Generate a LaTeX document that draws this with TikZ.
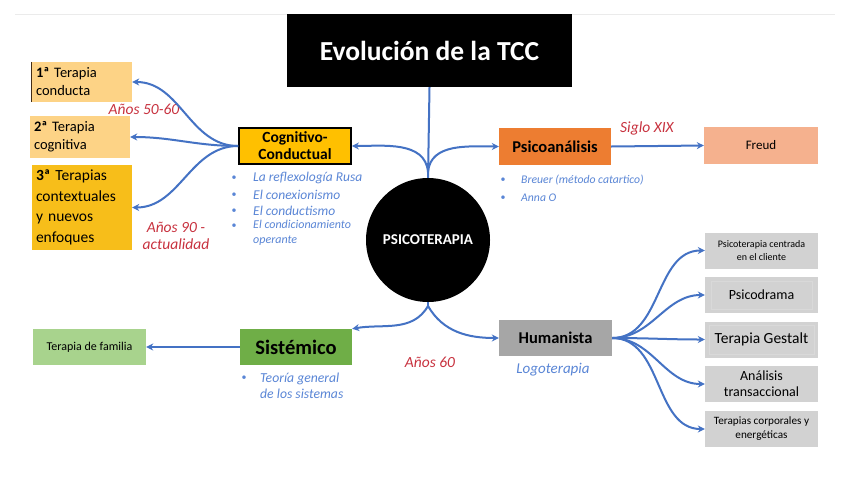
\documentclass[tikz,border=0pt]{standalone}
\usepackage{fontspec}
\setmainfont{Carlito}
\usetikzlibrary{arrows.meta,positioning}
\definecolor{arrblue}{HTML}{4472C4}
\definecolor{txtblue}{HTML}{5A86D6}
\definecolor{txtred}{HTML}{C8323F}
\definecolor{gold}{HTML}{FFC000}
\definecolor{lorange}{HTML}{FDD386}
\definecolor{dgold}{HTML}{F7BE1A}
\definecolor{porange}{HTML}{ED7D31}
\definecolor{salmon}{HTML}{F5B18E}
\definecolor{sgreen}{HTML}{6FAE47}
\definecolor{lgreen}{HTML}{A8D38D}
\definecolor{hgray}{HTML}{A6A6A6}
\definecolor{lgray}{HTML}{D2D2D2}
\tikzset{
  conn/.style={draw=arrblue, line width=2pt, -{Stealth[length=7pt,width=7pt]}},
  plain/.style={draw=arrblue, line width=2pt},
  redlab/.style={text=txtred, font=\itshape\fontsize{15.5}{17}\selectfont, align=center},
  bluelab/.style={text=txtblue, font=\itshape\fontsize{13.5}{15}\selectfont, align=left, anchor=west, inner sep=0pt},
  bul/.style={text=txtblue, font=\fontsize{10}{10}\selectfont},
}
\begin{document}
\begin{tikzpicture}[x=1pt,y=-1pt]
\useasboundingbox (0,0) rectangle (848,477);
\fill[white] (0,0) rectangle (848,477);
\draw[black!8, line width=1pt] (15,14) -- (835,14);

% title
\node[fill=black, minimum width=285pt, minimum height=73pt, text=white, font=\bfseries\fontsize{27.5}{30}\selectfont] (title) at (429.5,50.5) {Evolución de la TCC};
% circle
\node[circle, fill=black, minimum size=124pt, text=white, font=\bfseries\fontsize{15}{17}\selectfont, inner sep=0pt] (psi) at (428,240) {PSICOTERAPIA};

% Cognitivo
\node[fill=gold, draw=black, line width=1.8pt, minimum width=112pt, minimum height=36pt, align=center, font=\bfseries\fontsize{15.5}{17}\selectfont, inner sep=1pt] (cog) at (295,146) {Cognitivo-\\Conductual};
\node[bluelab] (b1) at (253,178) {La reflexología Rusa};
\node[bluelab] (b2) at (253,195) {El conexionismo};
\node[bluelab] (b3) at (253,211) {El conductismo};
\node[bluelab, font=\itshape\fontsize{12}{15}\selectfont] (b4) at (253,233) {El condicionamiento\\operante};
\foreach \y/\n in {178/c1,195/c2,211/c3,226/c4}{\node[bul] (\n) at (234,\y) {•};}

% left boxes
\node[fill=lorange, minimum width=100pt, minimum height=40pt, align=left, text width=92pt, font=\fontsize{14.5}{18}\selectfont] (t1) at (82,82) {\textbf{1ª} Terapia\\conducta};
\draw[black!65!brown, line width=1pt] (t1.north west) -- (t1.south west);
\node[fill=lorange, minimum width=100pt, minimum height=42pt, align=left, text width=92pt, font=\fontsize{14.5}{18}\selectfont] (t2) at (80,137) {\textbf{2ª} Terapia\\cognitiva};
\node[fill=dgold, minimum width=100pt, minimum height=85pt, align=left, text width=92pt, font=\fontsize{15.5}{20.5}\selectfont] (t3) at (82,207.5) {\textbf{3ª} Terapias\\contextuales\\y nuevos\\enfoques};

\node[redlab] (a5060) at (144,109) {Años 50-60};
\node[redlab] (a90) at (176,236) {Años 90 -\\actualidad};

% Psicoanalisis
\node[fill=porange, minimum width=112pt, minimum height=37pt, font=\bfseries\fontsize{16.5}{18}\selectfont] (psa) at (555,146.5) {Psicoanálisis};
\node[fill=salmon, minimum width=114pt, minimum height=37pt, font=\fontsize{13}{15}\selectfont] (freud) at (761,145.5) {Freud};
\node[redlab] (s19) at (647,128) {Siglo XIX};
\node[bluelab, font=\itshape\fontsize{11.7}{13}\selectfont] (p1) at (521,180) {Breuer (método catartico)};
\node[bluelab, font=\itshape\fontsize{11.7}{13}\selectfont] (p2) at (521,198) {Anna O};
\node[bul] (pb1) at (503,180) {•};
\node[bul] (pb2) at (503,198) {•};

% Sistemico
\node[fill=sgreen, minimum width=112pt, minimum height=36pt, font=\bfseries\fontsize{20.5}{22}\selectfont] (sis) at (296,347) {Sistémico};
\node[fill=lgreen, minimum width=113pt, minimum height=36pt, font=\fontsize{12}{14}\selectfont] (fam) at (89.5,347) {Terapia de familia};
\node[bluelab, font=\itshape\fontsize{13.7}{16}\selectfont] (tg) at (260,386) {Teoría general\\de los sistemas};
\node[bul] (sb) at (244,378) {•};
\node[redlab] (a60) at (430,362) {Años 60};

% Humanista
\node[fill=hgray, minimum width=113pt, minimum height=36pt, font=\bfseries\fontsize{16.5}{18}\selectfont] (hum) at (555.5,338) {Humanista};
\node[text=txtblue, font=\itshape\fontsize{15}{17}\selectfont] (logo) at (553,370) {Logoterapia};

\tikzset{gbox/.style={fill=lgray, minimum width=113pt, minimum height=36pt, align=center, inner sep=1pt}}
\node[gbox, font=\fontsize{10}{13}\selectfont] (h1) at (761.5,250.5) {Psicoterapia centrada\\en el cliente};
\node[gbox, font=\fontsize{14}{16}\selectfont] (h2) at (761.5,295) {Psicodrama};
\draw[black!15] ([shift={(6,4)}]h2.north west) rectangle ([shift={(-6,-4)}]h2.south east);
\node[gbox, font=\fontsize{15.5}{17}\selectfont] (h3) at (761.5,339.5) {Terapia Gestalt};
\draw[black!15] ([shift={(4,4)}]h3.north west) rectangle ([shift={(-4,-4)}]h3.south east);
\node[gbox, font=\fontsize{14}{16}\selectfont] (h4) at (761.5,384) {Análisis\\transaccional};
\node[gbox, font=\fontsize{11.2}{14}\selectfont] (h5) at (761.5,429) {Terapias corporales y\\energéticas};

% connectors
\coordinate (jt) at (428,172);
\coordinate (jb) at (428,306);
\draw[plain] (title.south) -- (psi.north);
\draw[conn] (jt) to[out=95,in=0] (cog.east);
\draw[conn] (jt) to[out=85,in=180] (psa.west);
\draw[conn] (psa.east) -- (freud.west);
\draw[conn] (cog.west) to[out=180,in=0] (t1.east);
\draw[conn] (cog.west) to[out=180,in=0] (t2.east);
\draw[conn] (cog.west) to[out=180,in=0] (t3.east);
\draw[plain] (psi.south) -- (jb);
\draw[conn] (jb) to[out=-120,in=10] (sis.north east);
\draw[conn] (jb) to[out=-60,in=180] (hum.west);
\draw[conn] (sis.west) -- (fam.east);
\foreach \b in {h1,h2,h3,h4,h5}{\draw[conn] (hum.east) to[out=0,in=180] (\b.west);}
\end{tikzpicture}
\end{document}
